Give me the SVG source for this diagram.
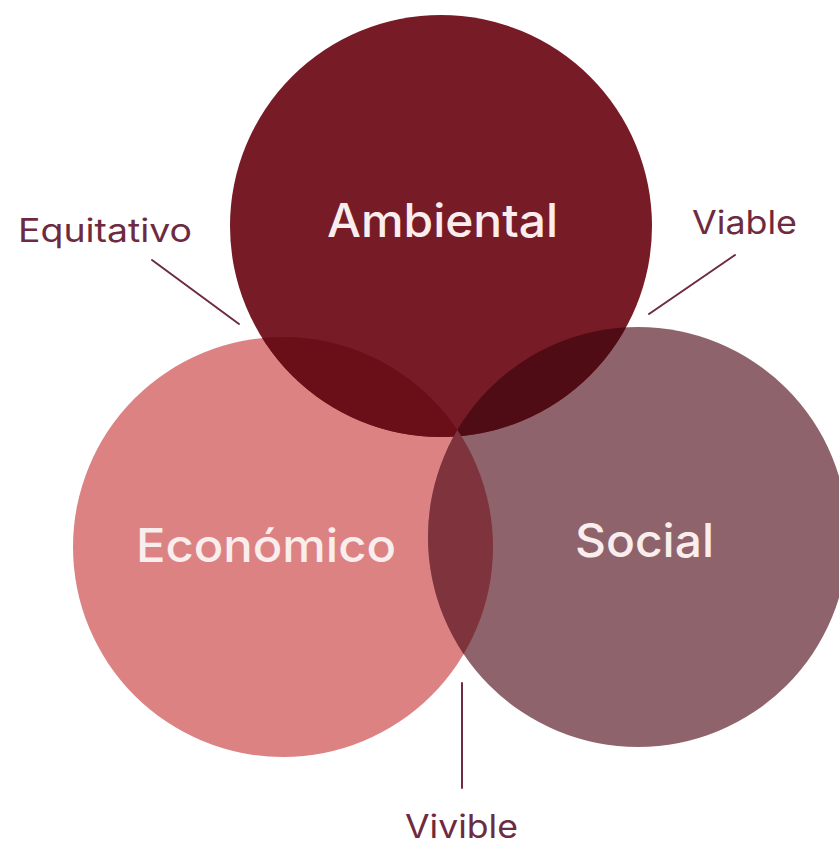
<svg xmlns="http://www.w3.org/2000/svg" width="839" height="846" viewBox="0 0 839 846">
  <style>
    .inner { font-family: Inter, "Liberation Sans", Arial, sans-serif; font-weight: 500; font-size: 46px; fill: #f9eded; text-anchor: start; }
    .outer { font-family: Inter, "Liberation Sans", Arial, sans-serif; font-weight: 400; font-size: 32px; fill: #6e2a40; }
    .conn { stroke: #6e2a40; stroke-width: 2; fill: none; stroke-linecap: round; }
  </style>
  <defs>
    <clipPath id="clipAmb"><circle cx="441" cy="226" r="211"/></clipPath>
    <clipPath id="clipEco"><circle cx="283" cy="547" r="210"/></clipPath>
    <clipPath id="clipSoc"><circle cx="638" cy="537" r="210"/></clipPath>
  </defs>
  <rect width="839" height="846" fill="#ffffff"/>

  <g id="economico">
    <circle cx="283" cy="547" r="210" fill="#dc8283"/>
  </g>
  <g id="social">
    <circle cx="638" cy="537" r="210" fill="#8f636b"/>
  </g>
  <g id="ambiental">
    <circle cx="441" cy="226" r="211" fill="#771b27"/>
  </g>

  <g id="overlaps">
    <g clip-path="url(#clipAmb)">
      <circle cx="283" cy="547" r="210" fill="#6a0f18"/>
      <circle cx="638" cy="537" r="210" fill="#4f0c15"/>
    </g>
    <g clip-path="url(#clipEco)">
      <circle cx="638" cy="537" r="210" fill="#7f333c"/>
    </g>
  </g>

  <g id="labels-inner">
    <text class="inner" x="327" y="237" textLength="231" lengthAdjust="spacingAndGlyphs">Ambiental</text>
    <text class="inner" x="136" y="562" textLength="260" lengthAdjust="spacingAndGlyphs">Económico</text>
    <text class="inner" x="575" y="557" textLength="139" lengthAdjust="spacingAndGlyphs">Social</text>
  </g>

  <g id="connectors">
    <line class="conn" x1="152" y1="260" x2="239" y2="324"/>
    <line class="conn" x1="735" y1="255" x2="649" y2="314"/>
    <line class="conn" x1="462" y1="683" x2="462" y2="788"/>
  </g>

  <g id="label-equitativo">
    <text class="outer" x="18" y="242" textLength="174" lengthAdjust="spacingAndGlyphs">Equitativo</text>
  </g>
  <g id="label-viable">
    <text class="outer" x="692" y="234" textLength="105" lengthAdjust="spacingAndGlyphs">Viable</text>
  </g>
  <g id="label-vivible">
    <text class="outer" x="405" y="838" textLength="113" lengthAdjust="spacingAndGlyphs">Vivible</text>
  </g>
</svg>
